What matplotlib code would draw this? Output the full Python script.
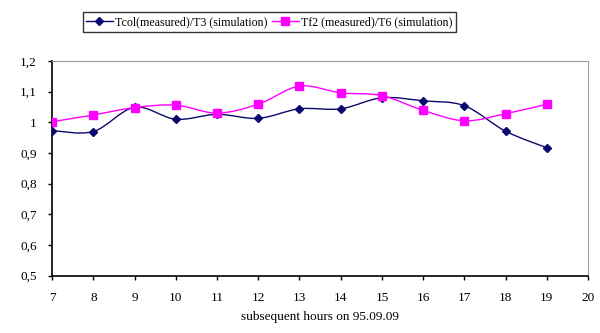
import numpy as np
import matplotlib
matplotlib.use("Agg")
import matplotlib.pyplot as plt
from matplotlib.path import Path
import matplotlib.patches as patches
from matplotlib.ticker import FuncFormatter
from matplotlib.lines import Line2D

hours = [7, 8, 9, 10, 11, 12, 13, 14, 15, 16, 17, 18, 19]
tcol_t3 = [0.973, 0.970, 1.049, 1.010, 1.026, 1.013, 1.044, 1.044, 1.080, 1.070, 1.054, 0.971, 0.917]
tf2_t6 = [1.002, 1.024, 1.048, 1.056, 1.030, 1.059, 1.118, 1.096, 1.087, 1.039, 1.005, 1.028, 1.059]

label_blue = 'Tcol(measured)/T3 (simulation)'
label_pink = 'Tf2 (measured)/T6 (simulation)'

navy = '#0a0a6e'
magenta = '#ff00ff'

plt.rcParams['font.family'] = ['Liberation Serif', 'DejaVu Serif']


def smooth_path(x, y, tension=1 / 6):
    # cubic bezier through the points, like a spreadsheet "smoothed line"
    x = np.asarray(x, float)
    y = np.asarray(y, float)
    n = len(x)
    verts = [(x[0], y[0])]
    codes = [Path.MOVETO]
    for i in range(n - 1):
        x0, y0 = (x[i - 1], y[i - 1]) if i > 0 else (x[i], y[i])
        x3, y3 = (x[i + 2], y[i + 2]) if i + 2 < n else (x[i + 1], y[i + 1])
        c1 = (x[i] + (x[i + 1] - x0) * tension, y[i] + (y[i + 1] - y0) * tension)
        c2 = (x[i + 1] - (x3 - x[i]) * tension, y[i + 1] - (y3 - y[i]) * tension)
        verts += [c1, c2, (x[i + 1], y[i + 1])]
        codes += [Path.CURVE4] * 3
    return Path(verts, codes)


def comma_fmt(v, pos):
    if abs(v - 1) < 1e-6:
        return '1'
    return f'{v:.1f}'.replace('.', ',')


fig = plt.figure(figsize=(6, 3.33), dpi=100)
ax = fig.add_axes([0.087, 0.172, 0.893, 0.645])

for ys, col in [(tcol_t3, navy), (tf2_t6, magenta)]:
    ax.add_patch(patches.PathPatch(smooth_path(hours, ys), facecolor='none',
                                   edgecolor=col, linewidth=1.0, zorder=2))

ax.plot(hours, tcol_t3, linestyle='none', marker='D', markersize=4.5,
        color=navy, zorder=3)
ax.plot(hours, tf2_t6, linestyle='none', marker='s', markersize=5.5,
        color=magenta, zorder=3)

ax.set_xlim(7, 20)
ax.set_ylim(0.5, 1.2)
ax.set_xticks(range(7, 21))
ax.set_yticks(np.arange(0.5, 1.21, 0.1))
ax.yaxis.set_major_formatter(FuncFormatter(comma_fmt))
ax.tick_params(axis='both', direction='out', length=3, width=1, labelsize=9.5, colors='black')
ax.tick_params(axis='x', pad=9)
ax.tick_params(axis='y', pad=8)

ax.spines['left'].set_color('black')
ax.spines['bottom'].set_color('black')
ax.spines['left'].set_linewidth(1.2)
ax.spines['bottom'].set_linewidth(1.2)
ax.spines['top'].set_color('#a0a0a0')
ax.spines['right'].set_color('#a0a0a0')

ax.set_xlabel('subsequent hours on 95.09.09', fontsize=9.5, labelpad=5)

handles = [Line2D([], [], color=navy, marker='D', markersize=4.5, linewidth=1),
           Line2D([], [], color=magenta, marker='s', markersize=5.5, linewidth=1)]
fig.legend(handles, [label_blue, label_pink], loc='center', ncol=2,
           bbox_to_anchor=(0.449, 0.934), fontsize=8.6, frameon=True,
           fancybox=False, edgecolor='black', handlelength=2.2,
           handletextpad=0.2, columnspacing=0.4, borderpad=0.3)

fig.savefig('out.png', dpi=100)
